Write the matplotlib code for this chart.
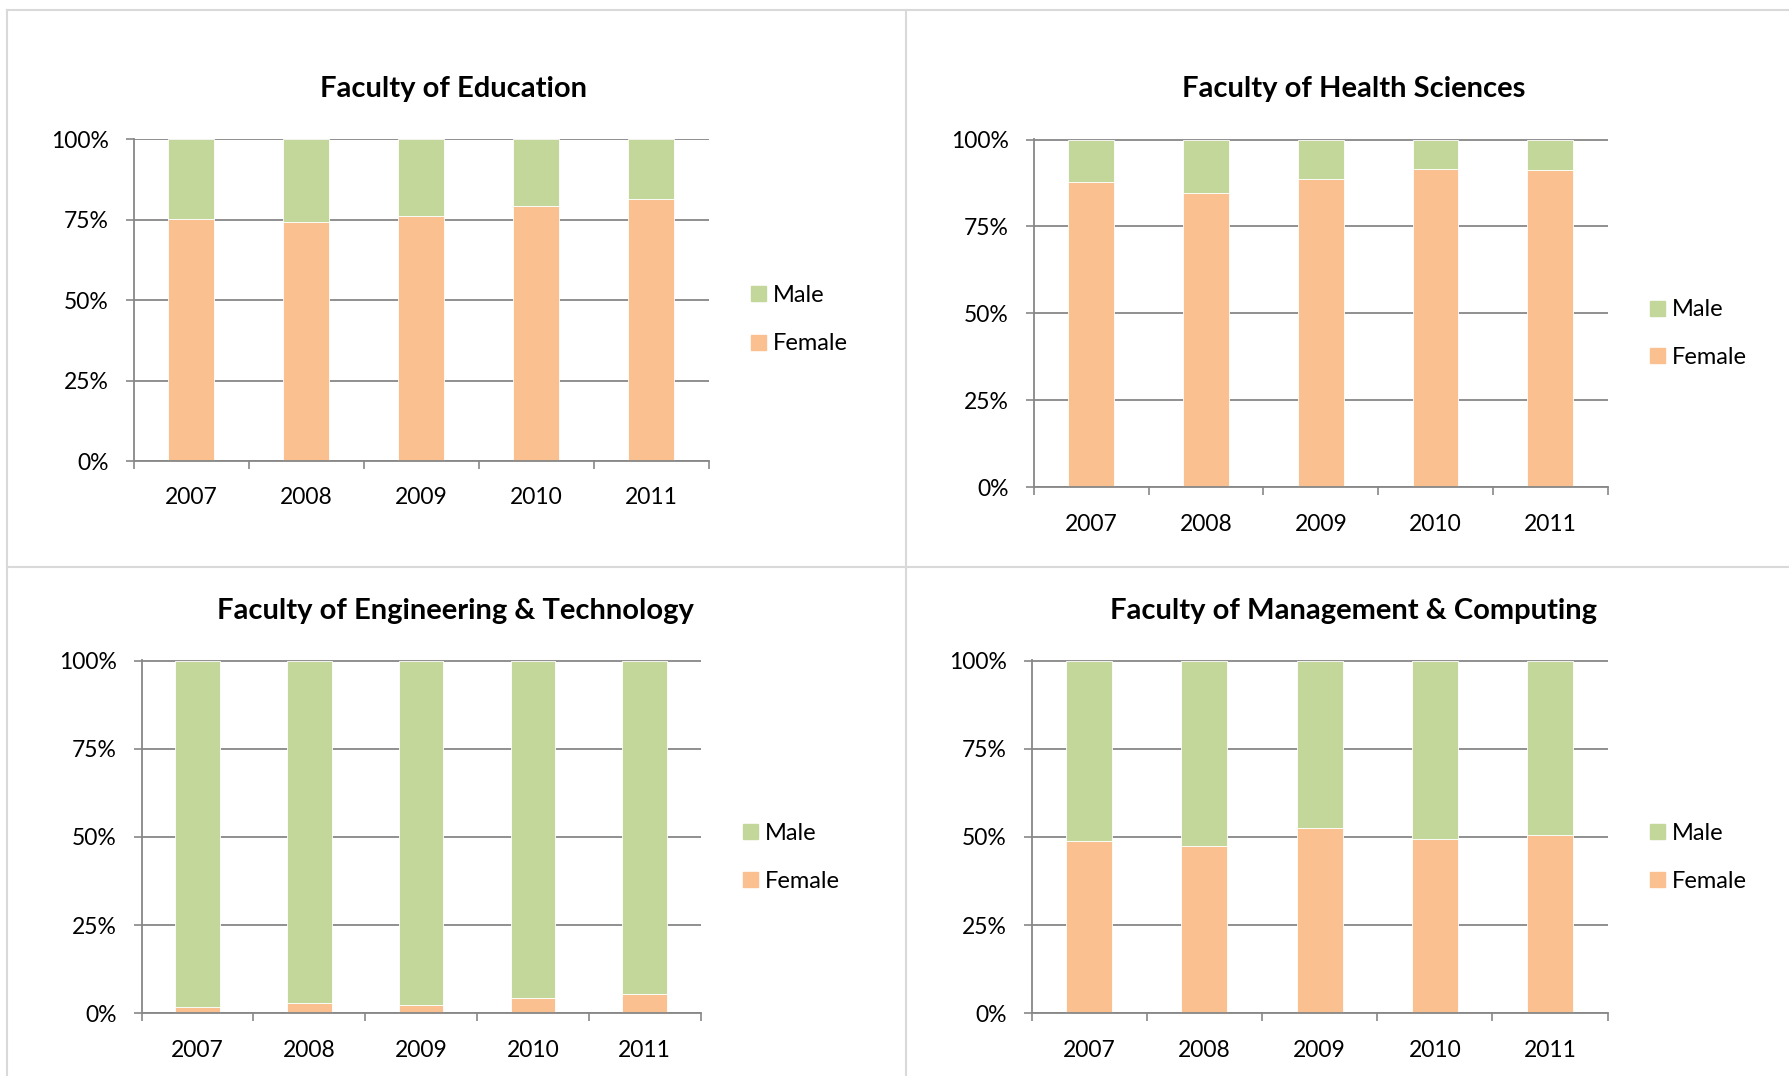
import matplotlib
matplotlib.use("Agg")
import matplotlib.pyplot as plt
from matplotlib.patches import Rectangle
from matplotlib.lines import Line2D
from matplotlib.ticker import FuncFormatter

plt.rcParams['font.family'] = ['Lato', 'DejaVu Sans']

years = ['2007', '2008', '2009', '2010', '2011']

titles = ['Faculty of Education', 'Faculty of Health Sciences',
          'Faculty of Engineering & Technology', 'Faculty of Management & Computing']

# percent of students per year
edu_female = [75.3, 74.2, 76.3, 79.3, 81.4]
edu_male = [24.7, 25.8, 23.7, 20.7, 18.6]
health_female = [87.7, 84.5, 88.7, 91.5, 91.1]
health_male = [12.3, 15.5, 11.3, 8.5, 8.9]
eng_female = [1.7, 2.8, 2.3, 4.2, 5.4]
eng_male = [98.3, 97.2, 97.7, 95.8, 94.6]
mgmt_female = [48.7, 47.5, 52.6, 49.5, 50.4]
mgmt_male = [51.3, 52.5, 47.4, 50.5, 49.6]

female_vals = [edu_female, health_female, eng_female, mgmt_female]
male_vals = [edu_male, health_male, eng_male, mgmt_male]

GREEN = '#C4D79B'
ORANGE = '#FAC090'
GRID = '#878787'
BORDER = '#D9D9D9'

W, H = 1789, 1076
fig = plt.figure(figsize=(W / 100, H / 100), dpi=100)


def fx(px):
    return px / W


def fy(py):
    return 1 - py / H


# panel borders (pixel coords)
for x0, y0, x1, y1 in [(7, 10, 1789, 10), (7, 10, 7, 1076),
                       (906, 10, 906, 1076), (7, 567, 1789, 567)]:
    fig.add_artist(Line2D([fx(x0), fx(x1)], [fy(y0), fy(y1)], color=BORDER, lw=1.5))

# axes boxes: left, top, right, bottom in pixels
boxes = [(133.5, 138.5, 708.6, 461),
         (1033.8, 138.5, 1607.7, 487.2),
         (141.5, 659.5, 700.6, 1013.2),
         (1031.5, 659.5, 1607.7, 1013.2)]
title_pos = [(454, 97), (1354, 97), (455, 618.5), (1354, 618.5)]
legend_pos = [(751, 293, 342), (1650, 308, 355), (743, 831, 879), (1650, 831, 879)]

for i in range(4):
    l, t, r, b = boxes[i]
    ax = fig.add_axes([fx(l), fy(b), fx(r) - fx(l), (b - t) / H])
    xs = range(len(years))
    ax.bar(xs, female_vals[i], width=0.4, color=ORANGE, edgecolor='white', lw=0.6, zorder=2)
    ax.bar(xs, male_vals[i], width=0.4, bottom=female_vals[i], color=GREEN,
           edgecolor='white', lw=0.6, zorder=2)
    ax.set_xlim(-0.5, 4.5)
    ax.set_ylim(0, 100.3)
    ax.set_yticks([0, 25, 50, 75, 100])
    ax.yaxis.set_major_formatter(FuncFormatter(lambda v, p: f'{v:.0f}%'))
    ax.set_xticks(list(xs))
    ax.set_xticklabels(years)
    ax.set_xticks([k - 0.5 for k in range(6)], minor=True)
    ax.tick_params(axis='x', which='major', length=0, pad=19, labelsize=16.5)
    ax.tick_params(axis='x', which='minor', length=6, width=1.2, color=GRID, direction='out')
    ax.tick_params(axis='y', length=6, width=1.2, color=GRID, pad=12, labelsize=16.5)
    ax.grid(axis='y', color=GRID, lw=1.3, zorder=0)
    ax.set_axisbelow(True)
    for s in ['top', 'right']:
        ax.spines[s].set_visible(False)
    for s in ['left', 'bottom']:
        ax.spines[s].set_color(GRID)
        ax.spines[s].set_linewidth(1.3)

    tx, ty = title_pos[i]
    fig.text(fx(tx), fy(ty), titles[i], ha='center', va='baseline',
             fontsize=21, fontweight='bold')

    lx, my, fyy = legend_pos[i]
    for lab, col, yy in [('Male', GREEN, my), ('Female', ORANGE, fyy)]:
        fig.add_artist(Rectangle((fx(lx), fy(yy + 7.5)), 15 / W, 15 / H,
                                 transform=fig.transFigure, color=col))
        fig.text(fx(lx + 22), fy(yy + 2), lab, ha='left', va='center', fontsize=17)

fig.savefig('out.png', dpi=100)
